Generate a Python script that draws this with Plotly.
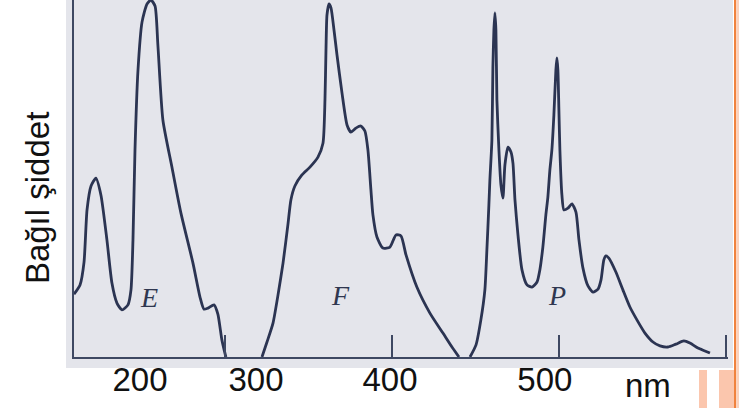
import plotly.graph_objects as go

# Excitation (E) spectrum
E_nm = [209.9, 213.5, 215.9, 217.7, 220.1, 223.0, 226.0, 229.6, 232.6, 235.6, 238.6, 242.2, 244.0,
        245.2, 246.4, 248.2, 250.6, 253.6, 256.0, 258.4, 260.1, 263.1, 268.5, 273.9, 281.1, 285.3,
        287.7, 290.1, 293.7, 296.0, 298.4, 300.8]
E_int = [17.6, 20.2, 26.6, 41.2, 47.9, 50.1, 45.4, 32.8, 20.7, 15.1, 13.2, 14.6, 18.8,
         32.8, 58.0, 80.4, 93.8, 98.9, 100.0, 98.3, 87.4, 66.4, 53.2, 40.3, 26.3, 16.8,
         13.4, 13.7, 14.6, 12.0, 4.8, 0.0]

# Fluorescence (F) spectrum
F_nm = [322.4, 325.4, 329.0, 332.0, 335.0, 337.9, 339.7, 342.1, 346.3, 351.1, 355.9, 358.9, 360.1,
        360.7, 361.3, 362.5, 363.7, 365.5, 367.3, 370.3, 373.3, 375.6, 378.6, 381.6, 384.0, 385.8,
        387.6, 388.8, 391.2, 394.8, 399.0, 402.6, 405.6, 408.6, 415.1, 422.9, 430.7, 436.1, 440.3]
F_int = [0.0, 4.2, 9.5, 17.4, 26.3, 37.0, 44.0, 47.9, 51.0, 53.2, 56.0, 59.9, 72.0,
         86.0, 95.8, 98.9, 97.8, 91.6, 84.6, 73.9, 65.0, 63.0, 64.1, 64.7, 63.3, 58.0,
         46.8, 39.8, 33.6, 30.5, 30.8, 34.2, 33.9, 28.6, 19.6, 12.3, 6.7, 2.8, 0.0]

# Phosphorescence (P) spectrum
P_nm = [446.9, 450.5, 453.4, 455.8, 457.0, 458.2, 458.8, 460.0, 460.6, 461.2, 461.8, 462.4, 463.0,
        464.2, 465.4, 466.6, 467.8, 469.6, 471.4, 472.6, 473.8, 475.6, 478.0, 481.0, 484.0, 487.0,
        488.7, 490.5, 492.3, 493.5, 494.7, 495.9, 497.1, 498.3, 498.9, 499.5, 500.1, 500.7, 501.9,
        503.1, 505.5, 507.9, 510.3, 512.1, 514.5, 517.5, 520.5, 523.5, 525.3, 527.0, 528.2, 530.0,
        534.2, 538.4, 542.6, 546.8, 551.6, 556.4, 560.6, 565.4, 570.1, 574.9, 578.5, 583.3, 587.5,
        590.5]
P_int = [0.0, 3.4, 10.4, 18.8, 30.0, 42.6, 49.6, 60.8, 81.2, 91.6, 96.4, 91.6, 72.0,
         58.0, 48.2, 44.5, 53.8, 58.8, 57.4, 54.3, 44.0, 34.2, 24.4, 20.2, 19.6, 21.0,
         24.4, 30.8, 39.8, 44.8, 52.4, 58.0, 67.8, 80.4, 83.8, 80.4, 69.2, 58.0, 45.4,
         41.2, 41.7, 42.9, 40.6, 32.8, 24.9, 19.9, 18.2, 19.0, 21.6, 27.2, 28.3, 27.7,
         23.8, 18.8, 14.0, 10.4, 6.7, 4.2, 3.1, 2.8, 3.6, 4.5, 3.9, 2.5, 1.7,
         1.1]

series_names = ["E", "F", "P"]
series_label_nm = [254.8, 369.1, 498.9]
series_label_int = [16.8, 17.1, 17.1]

axis_ticks_nm = [300, 400, 500, 600]
slide_tick_text = ["200", "300", "400", "500"]
slide_tick_nm = [249.4, 318.8, 399.0, 491.7]
unit_label = "nm"
unit_label_nm = 553.4
y_title = "Bağıl şiddet"

X_RANGE = [209.9, 601.3]
INK = "#2b3452"
SCAN_BG = "#e4e5eb"

fig = go.Figure()
for nm, inten, name in zip([E_nm, F_nm, P_nm], [E_int, F_int, P_int], series_names):
    fig.add_trace(go.Scatter(x=nm, y=inten, mode="lines", name=name,
                             line=dict(color=INK, width=2.8, shape="spline", smoothing=0.6),
                             hoverinfo="skip", showlegend=False))

# invisible trace on overlay axis to carry slide tick labels
fig.add_trace(go.Scatter(x=[X_RANGE[0]], y=[0], xaxis="x2", mode="markers",
                         marker=dict(opacity=0), showlegend=False, hoverinfo="skip"))

for name, lx, ly in zip(series_names, series_label_nm, series_label_int):
    fig.add_annotation(x=lx, y=ly, xref="x", yref="y", text="<i>" + name + "</i>",
                       showarrow=False, xanchor="center", yanchor="middle",
                       font=dict(family="Liberation Serif, Times New Roman",
                                 size=28, color="#2f3750"))

fig.add_annotation(x=unit_label_nm, y=-0.081, xref="x", yref="paper", text=unit_label,
                   showarrow=False, xanchor="center", yanchor="middle",
                   font=dict(family="Liberation Sans, Arial", size=33, color="#111111"))

fig.add_annotation(x=-0.0566, y=0.445, xref="paper", yref="paper", text=y_title,
                   textangle=-90, showarrow=False, xanchor="center", yanchor="middle",
                   font=dict(family="Liberation Sans, Arial", size=33, color="#111111"))

shapes = [
    dict(type="rect", xref="paper", yref="paper", x0=-0.0122, x1=1.0076, y0=-0.0308, y1=1.02,
         fillcolor=SCAN_BG, line=dict(width=0), layer="below"),
    dict(type="rect", xref="paper", yref="paper", x0=0.9557, x1=0.9679, y0=-0.1429, y1=-0.0364,
         fillcolor="#fbc6ad", line=dict(width=0), layer="above"),
    dict(type="rect", xref="paper", yref="paper", x0=0.9862, x1=1.0092, y0=-0.1429, y1=-0.0364,
         fillcolor="#fbc6ad", line=dict(width=0), layer="above"),
    dict(type="rect", xref="paper", yref="paper", x0=1.0092, x1=1.0125, y0=-0.1429, y1=1.02,
         fillcolor="#f0823c", line=dict(width=0), layer="above"),
    dict(type="rect", xref="paper", yref="paper", x0=1.0125, x1=1.02, y0=-0.1429, y1=1.02,
         fillcolor="#fbd2bd", line=dict(width=0), layer="above"),
]

fig.update_layout(
    width=739, height=408,
    margin=dict(l=74, r=11, t=0, b=51),
    paper_bgcolor="white", plot_bgcolor=SCAN_BG,
    shapes=shapes,
    xaxis=dict(range=X_RANGE, showgrid=False, zeroline=False, showline=True,
               linecolor="#3e4862", linewidth=2, ticks="inside", ticklen=22, tickwidth=1.5,
               tickcolor="#3e4862", tickvals=axis_ticks_nm, showticklabels=False),
    xaxis2=dict(range=X_RANGE, overlaying="x", side="bottom", anchor="y", showgrid=False,
                zeroline=False, showline=False, ticks="",
                tickvals=slide_tick_nm, ticktext=slide_tick_text,
                tickfont=dict(family="Liberation Sans, Arial", size=33, color="#111111")),
    yaxis=dict(range=[0, 100], showgrid=False, zeroline=False, showline=True,
               linecolor="#3e4862", linewidth=2, ticks="", showticklabels=False),
)

fig.write_html("out.html", config={"displayModeBar": False},
               post_script="document.body.style.margin='0';")
